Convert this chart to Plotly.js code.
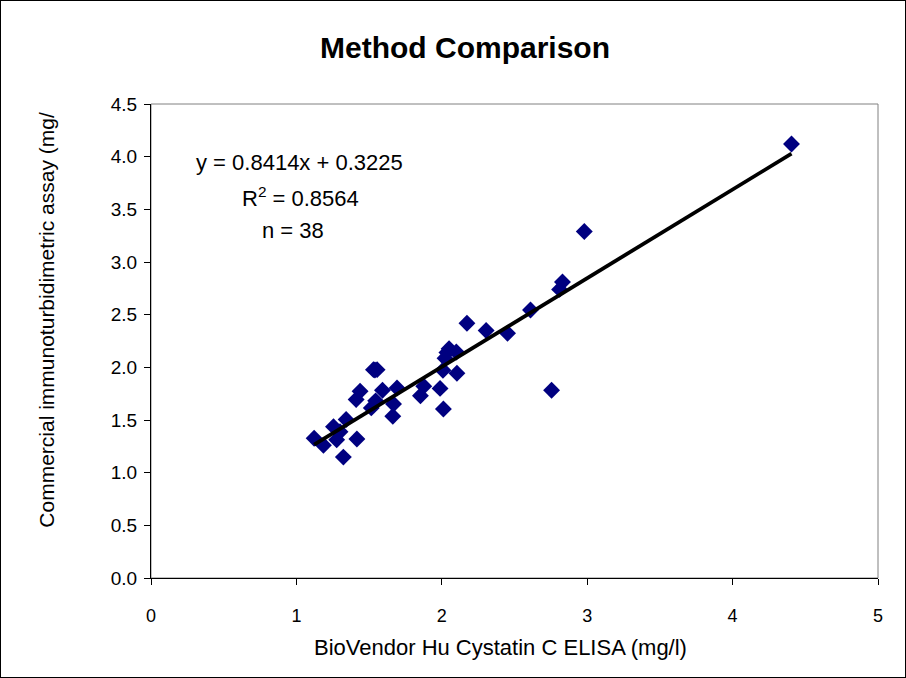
<!DOCTYPE html>
<html>
<head>
<meta charset="utf-8">
<script src="https://cdn.plot.ly/plotly-3.0.1.min.js"></script>
<style>
html,body{margin:0;padding:0;background:#fff;}
#chart{width:904px;height:676px;border:1px solid #000;}
</style>
</head>
<body>
<div id="chart"></div>
<script>
// BioVendor Hu Cystatin C ELISA (mg/l)
const elisa = [1.122, 1.186, 1.255, 1.300, 1.277, 1.323, 1.342, 1.416, 1.411, 1.438,
               1.530, 1.555, 1.515, 1.545, 1.592, 1.668, 1.663, 1.692, 1.853, 1.876,
               1.988, 2.008, 2.011, 2.022, 2.050, 2.100, 2.104, 2.173, 2.305, 2.452,
               2.610, 2.810, 2.830, 2.980, 2.755, 4.405, 2.035, 1.540];
// Commercial immunoturbidimetric assay (mg/l)
const immuno = [1.327, 1.260, 1.437, 1.389, 1.312, 1.148, 1.505, 1.320, 1.694, 1.773,
                1.978, 1.978, 1.615, 1.682, 1.782, 1.652, 1.536, 1.804, 1.730, 1.820,
                1.800, 1.972, 1.605, 2.086, 2.176, 2.145, 1.944, 2.419, 2.349, 2.324,
                2.545, 2.740, 2.810, 3.290, 1.782, 4.120, 2.140, 1.975];
const slope = 0.8414;
const intercept = 0.3225;
const rSquared = "0.8564";
const nCount = 38;
const xTicks = [0, 1, 2, 3, 4, 5];
const yTicks = [0, 0.5, 1, 1.5, 2, 2.5, 3, 3.5, 4, 4.5];

const xMin = Math.min(...elisa), xMax = Math.max(...elisa);
const fitX = [xMin, xMax];
const fitY = fitX.map(v => slope * v + intercept);

const font = 'Arial, "Liberation Sans", sans-serif';

const traces = [
  {x: elisa, y: immuno, type: 'scatter', mode: 'markers',
   marker: {symbol: 'diamond', size: 13, color: '#000080', line: {width: 0}},
   hoverinfo: 'x+y', showlegend: false},
  {x: fitX, y: fitY, type: 'scatter', mode: 'lines',
   line: {color: '#000', width: 3.8}, showlegend: false}
];

const layout = {
  width: 904, height: 676,
  margin: {l: 150, r: 27, t: 103, b: 99},
  paper_bgcolor: '#fff', plot_bgcolor: '#fff',
  font: {family: font, color: '#000'},
  showlegend: false,
  xaxis: {
    range: [0, 5], tickvals: xTicks, ticktext: xTicks.map(String),
    showgrid: false, zeroline: false, showline: true, linecolor: '#000', linewidth: 1,
    ticks: 'outside', ticklen: 6, tickcolor: '#000',
    tickfont: {size: 18, family: font}, ticklabelstandoff: 15
  },
  yaxis: {
    range: [0, 4.5], tickvals: yTicks, ticktext: yTicks.map(v => v.toFixed(1)),
    showgrid: false, zeroline: false, showline: true, linecolor: '#000', linewidth: 1,
    ticks: 'outside', ticklen: 6, tickcolor: '#000',
    tickfont: {size: 19, family: font}, ticklabelstandoff: 3
  },
  shapes: [
    {type: 'rect', xref: 'paper', yref: 'paper', x0: 0, x1: 1, y0: 0, y1: 1,
     line: {color: '#808080', width: 1}, layer: 'below'}
  ],
  annotations: [
    {text: '<b>Method Comparison</b>', xref: 'paper', yref: 'paper',
     x: 0.432, y: 1 + 57/474, xanchor: 'center', yanchor: 'middle', showarrow: false,
     font: {size: 30, family: font}},
    {text: 'BioVendor Hu Cystatin C ELISA (mg/l)', xref: 'paper', yref: 'paper',
     x: 0.481, y: -69/474, xanchor: 'center', yanchor: 'middle', showarrow: false,
     font: {size: 22, family: font}},
    {text: 'Commercial immunoturbidimetric assay (mg/', xref: 'paper', yref: 'paper',
     x: -104/727, y: 0.545, xanchor: 'center', yanchor: 'middle', showarrow: false,
     textangle: -90, font: {size: 21, family: font}},
    {text: 'y = ' + slope + 'x + ' + intercept, xref: 'paper', yref: 'paper',
     x: 148/727, y: 1 - 58/474, xanchor: 'center', yanchor: 'middle', showarrow: false,
     font: {size: 22, family: font}},
    {text: 'R<sup>2</sup> = ' + rSquared, xref: 'paper', yref: 'paper',
     x: 149/727, y: 1 - 93/474, xanchor: 'center', yanchor: 'middle', showarrow: false,
     font: {size: 22, family: font}},
    {text: 'n = ' + nCount, xref: 'paper', yref: 'paper',
     x: 142/727, y: 1 - 126/474, xanchor: 'center', yanchor: 'middle', showarrow: false,
     font: {size: 22, family: font}}
  ]
};

Plotly.newPlot('chart', traces, layout, {displayModeBar: false, staticPlot: true});
</script>
</body>
</html>
